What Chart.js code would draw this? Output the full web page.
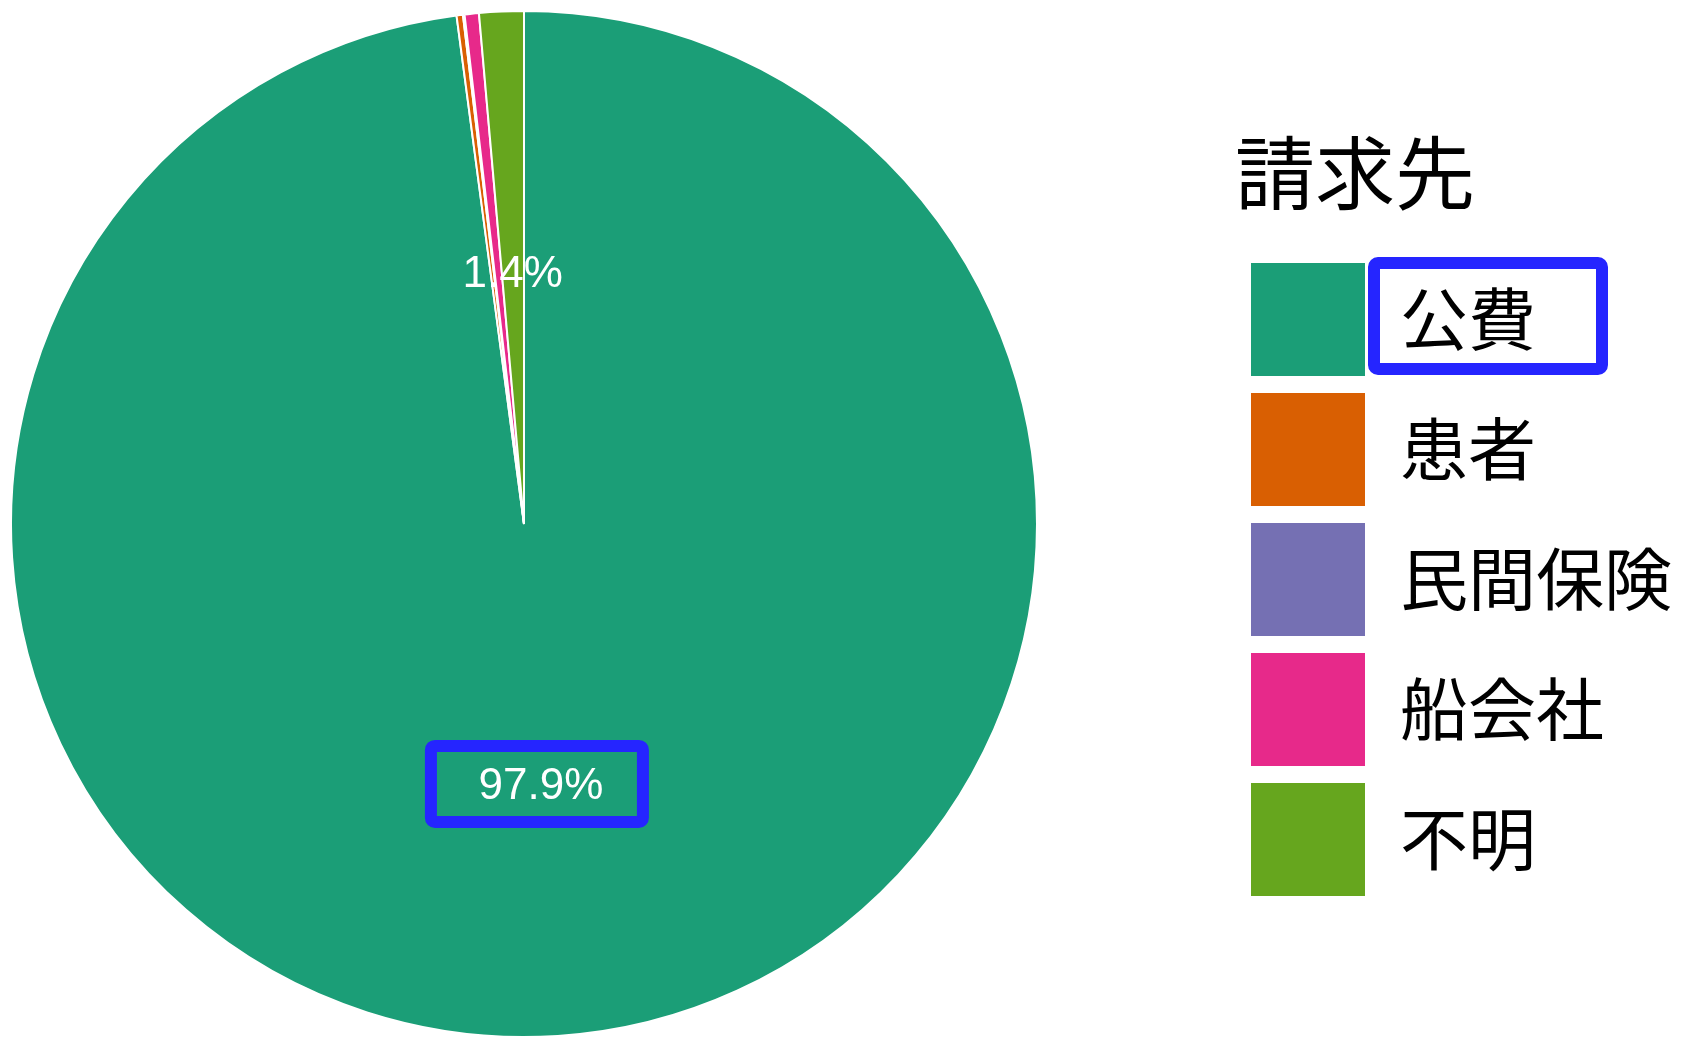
<!DOCTYPE html>
<html>
<head>
<meta charset="utf-8">
<script src="https://cdn.jsdelivr.net/npm/chart.js@4/dist/chart.umd.min.js"></script>
<style>
  html, body { margin: 0; padding: 0; background: #fff; overflow: hidden; }
  .caixa { position: relative; width: 1682px; height: 1037px; }
</style>
</head>
<body>
<div class="caixa"><canvas id="torta"></canvas></div>
<script>
const categorias = ['公費', '患者', '民間保険', '船会社', '不明']
const valores = [97.9, 0.2, 0.05, 0.45, 1.4]
const cores = ['#1b9e77', '#d95f02', '#7570b3', '#e7298a', '#66a61e']
const tituloLegenda = '請求先'

const fonteCJK = '"Noto Sans CJK JP", "Noto Sans CJK SC", sans-serif'

// pie sits on the left, legend further right
const areaTorta = {
  id: 'areaTorta',
  afterLayout(chart) {
    chart.chartArea = {left: 10, top: 10, right: 1038, bottom: 1038, width: 1028, height: 1028}
  }
}

const percentuais = {
  id: 'percentuais',
  afterDatasetsDraw(chart) {
    const ctx = chart.ctx
    const dados = chart.data.datasets[0].data
    const total = dados.reduce((a, b) => a + b, 0)
    const arcos = chart.getDatasetMeta(0).data
    ctx.save()
    ctx.font = '44px "Liberation Sans", Arial, sans-serif'
    ctx.fillStyle = '#ffffff'
    ctx.textAlign = 'center'
    ctx.textBaseline = 'middle'
    arcos.forEach((arco, i) => {
      const pct = dados[i] / total * 100
      if (pct < 1) return
      const p = arco.tooltipPosition()
      ctx.fillText(pct.toFixed(1) + '%', p.x, p.y + 7)
    })
    ctx.restore()
  }
}

// blue highlight frames
const destaques = {
  id: 'destaques',
  afterDraw(chart) {
    const ctx = chart.ctx
    ctx.save()
    ctx.strokeStyle = '#2525ff'
    ctx.lineWidth = 12
    const p = chart.getDatasetMeta(0).data[0].tooltipPosition()
    ctx.beginPath()
    ctx.roundRect(p.x - 110, p.y - 34, 212, 76, 4)
    ctx.stroke()
    const hb = chart.legend.legendHitBoxes[0]
    ctx.beginPath()
    ctx.roundRect(hb.left + 124, hb.top + 1, 228, 106, 4)
    ctx.stroke()
    ctx.restore()
  }
}

new Chart(document.getElementById('torta'), {
  type: 'pie',
  data: {
    labels: categorias,
    datasets: [{
      data: valores,
      backgroundColor: cores,
      borderColor: '#ffffff',
      borderWidth: 2
    }]
  },
  options: {
    responsive: true,
    maintainAspectRatio: false,
    animation: false,
    layout: { padding: 0 },
    plugins: {
      tooltip: { enabled: false },
      legend: {
        position: 'right',
        align: 'start',
        maxWidth: 448,
        title: {
          display: true,
          text: tituloLegenda,
          position: 'start',
          color: '#000',
          font: { family: fonteCJK, size: 80 },
          padding: { top: 133, bottom: 18 }
        },
        labels: {
          boxWidth: 116,
          boxHeight: 115,
          padding: 15,
          color: '#000',
          font: { family: fonteCJK, size: 68 }
        }
      }
    }
  },
  plugins: [areaTorta, percentuais, destaques]
})
</script>
</body>
</html>
